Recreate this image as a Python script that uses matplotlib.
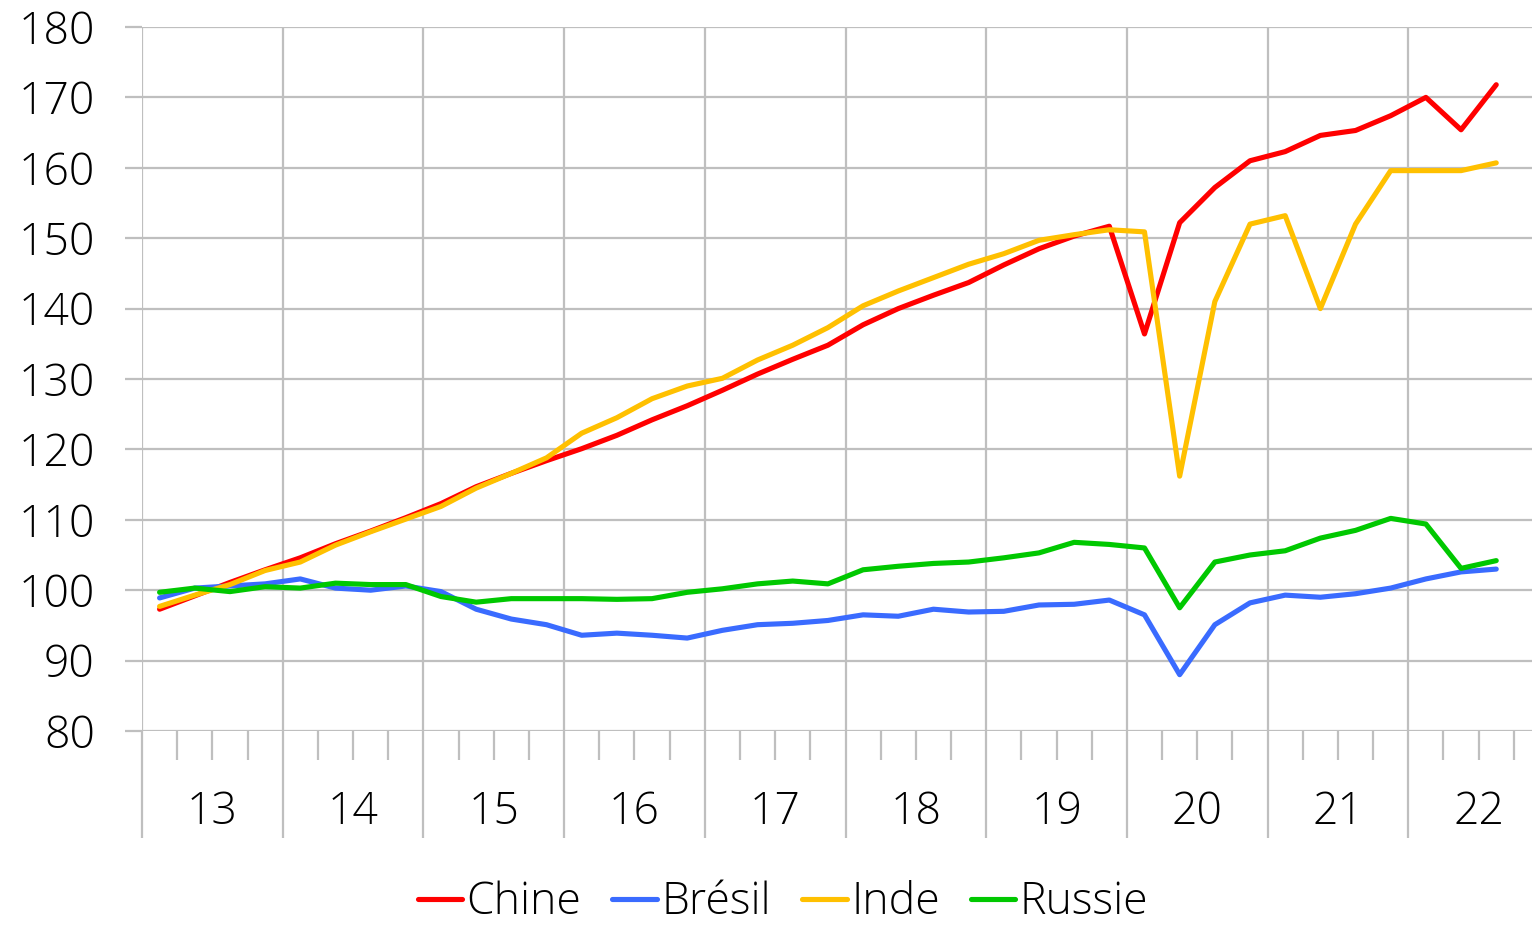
import numpy as np
import matplotlib
matplotlib.use("Agg")
import matplotlib.pyplot as plt
from matplotlib.ticker import FixedLocator

plt.rcParams['font.family'] = ['Open Sans', 'DejaVu Sans']
plt.rcParams['font.weight'] = 'light'

# ─── Data: quarterly index, 2013 Q1 → 2022 Q3 ────────────────────────────────
years = ["13", "14", "15", "16", "17", "18", "19", "20", "21", "22"]

chine = [97.3, 99.2, 101.1, 102.9, 104.6, 106.6, 108.4, 110.3,
         112.3, 114.7, 116.6, 118.4, 120.1, 122.0, 124.2, 126.2,
         128.4, 130.7, 132.8, 134.8, 137.7, 140.0, 141.9, 143.7,
         146.2, 148.5, 150.3, 151.7, 136.4, 152.2, 157.2, 161.0,
         162.3, 164.6, 165.3, 167.4, 170.0, 165.4, 171.8]

bresil = [98.9, 100.3, 100.6, 100.9, 101.6, 100.3, 100.0, 100.6,
          99.8, 97.3, 95.9, 95.1, 93.6, 93.9, 93.6, 93.2,
          94.3, 95.1, 95.3, 95.7, 96.5, 96.3, 97.3, 96.9,
          97.0, 97.9, 98.0, 98.6, 96.5, 88.0, 95.1, 98.2,
          99.3, 99.0, 99.5, 100.3, 101.6, 102.6, 103.0]

inde = [97.7, 99.3, 100.8, 102.8, 104.0, 106.4, 108.3, 110.1,
        111.9, 114.5, 116.6, 118.8, 122.3, 124.5, 127.2, 129.0,
        130.1, 132.7, 134.8, 137.3, 140.4, 142.5, 144.4, 146.3,
        147.8, 149.7, 150.5, 151.2, 150.9, 116.2, 141.0, 152.0,
        153.2, 140.0, 152.0, 159.6, 159.6, 159.6, 160.7]

russie = [99.7, 100.3, 99.8, 100.5, 100.3, 101.0, 100.8, 100.8,
          99.1, 98.3, 98.8, 98.8, 98.8, 98.7, 98.8, 99.7,
          100.2, 100.9, 101.3, 100.9, 102.9, 103.4, 103.8, 104.0,
          104.6, 105.3, 106.8, 106.5, 106.0, 97.5, 104.0, 105.0,
          105.6, 107.4, 108.5, 110.2, 109.4, 103.1, 104.2]

series = [("Chine", chine, "#FF0000"),
          ("Brésil", bresil, "#3A6BFF"),
          ("Inde", inde, "#FFC000"),
          ("Russie", russie, "#00C800")]

GRID = "#BFBFBF"

# ─── Figure ──────────────────────────────────────────────────────────────────
fig = plt.figure(figsize=(15.32, 9.25), dpi=100)
# plot area runs a little past the right edge of the canvas
ax = fig.add_axes([142 / 1532, (925 - 731) / 925, 1407 / 1532, 704 / 925])

x = np.arange(len(chine)) + 0.5
for name, vals, col in series:
    ax.plot(x, vals, color=col, lw=3.7, label=name, solid_capstyle="round",
            solid_joinstyle="round", zorder=3)

ax.set_xlim(0, 4 * len(years))
ax.set_ylim(80, 180)
ax.set_yticks(np.arange(80, 181, 10))

for s in ax.spines.values():
    s.set_visible(False)

# year boundaries as major ticks, quarter boundaries as minor ticks
ax.xaxis.set_major_locator(FixedLocator(np.arange(0, 4 * len(years) + 1, 4)))
ax.xaxis.set_minor_locator(FixedLocator(np.arange(0, 4 * len(years) + 1, 1)))
ax.set_xticklabels([])
ax.tick_params(axis="x", which="major", direction="out", length=77,
               width=1.6, color=GRID)
ax.tick_params(axis="x", which="minor", direction="out", length=21,
               width=1.6, color=GRID)
ax.tick_params(axis="y", direction="out", length=12, width=1.6, color=GRID,
               labelsize=32, pad=22, labelcolor="black")

ax.grid(True, which="major", color=GRID, lw=1.6, zorder=0)
ax.set_axisbelow(True)

for i, yr in enumerate(years):
    ax.text(4 * i + 2, -0.116, yr, transform=ax.get_xaxis_transform(),
            ha="center", va="center", fontsize=32, color="black")

handles, labels = ax.get_legend_handles_labels()
fig.legend(handles, labels, loc="center", bbox_to_anchor=(783 / 1532, 1 - 903 / 925),
           ncol=4, frameon=False, fontsize=32, handlelength=1.0,
           handletextpad=0.1, columnspacing=0.7, borderpad=0.05)

plt.savefig("out.png", dpi=100)
plt.close()
